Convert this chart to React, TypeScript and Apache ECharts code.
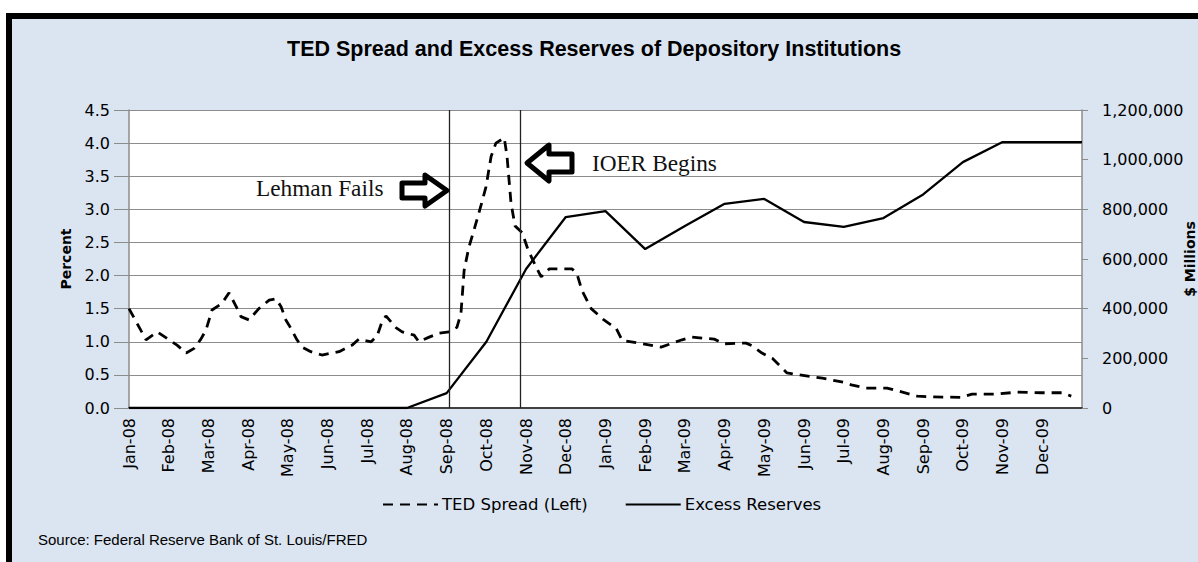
import React, { useEffect, useRef } from "react";
import * as echarts from "echarts";

// Month tick labels (index 0 = Jan-08); the axis runs to index 24 (Jan-10, unlabeled)
const MONTH_LABELS = [
  "Jan-08", "Feb-08", "Mar-08", "Apr-08", "May-08", "Jun-08", "Jul-08", "Aug-08",
  "Sep-08", "Oct-08", "Nov-08", "Dec-08", "Jan-09", "Feb-09", "Mar-09", "Apr-09",
  "May-09", "Jun-09", "Jul-09", "Aug-09", "Sep-09", "Oct-09", "Nov-09", "Dec-09",
];

// TED spread (percent), [month position, value] — roughly weekly readings
const TED_SPREAD: [number, number][] = [
  [0, 1.5], [0.43, 1.03], [0.71, 1.15], [1.01, 1.03], [1.21, 0.95], [1.44, 0.83],
  [1.64, 0.9], [1.81, 1.04], [1.94, 1.18], [2.09, 1.48], [2.34, 1.58], [2.52, 1.74],
  [2.7, 1.53], [2.82, 1.38], [3.02, 1.33], [3.27, 1.5], [3.53, 1.63], [3.7, 1.65],
  [3.83, 1.53], [3.95, 1.33], [4.08, 1.2], [4.23, 1.03], [4.36, 0.92], [4.58, 0.85],
  [4.86, 0.8], [5.29, 0.85], [5.62, 0.95], [5.79, 1.04], [6.1, 1.0], [6.25, 1.09],
  [6.37, 1.3], [6.47, 1.39], [6.73, 1.21], [6.88, 1.15], [7.18, 1.1], [7.3, 1.0],
  [7.56, 1.07], [7.81, 1.13], [8.06, 1.15], [8.26, 1.22], [8.36, 1.43], [8.44, 2.08],
  [8.56, 2.43], [8.69, 2.69], [8.87, 3.07], [8.99, 3.34], [9.12, 3.8], [9.24, 4.0],
  [9.45, 4.08], [9.52, 3.8], [9.62, 3.1], [9.72, 2.75], [9.9, 2.65], [10.05, 2.39],
  [10.25, 2.13], [10.38, 1.98], [10.58, 2.1], [11.16, 2.1], [11.28, 2.03], [11.41, 1.77],
  [11.64, 1.5], [11.96, 1.33], [12.27, 1.2], [12.42, 1.02], [12.85, 0.98], [13.4, 0.92],
  [13.93, 1.03], [14.16, 1.07], [14.74, 1.04], [14.99, 0.97], [15.54, 0.98], [15.69, 0.94],
  [15.94, 0.83], [16.2, 0.75], [16.42, 0.62], [16.57, 0.53], [16.88, 0.5], [17.46, 0.45],
  [18.06, 0.38], [18.19, 0.35], [18.56, 0.3], [19.09, 0.3], [19.35, 0.26], [19.85, 0.18],
  [20.15, 0.17], [20.96, 0.16], [21.23, 0.21], [21.84, 0.21], [22.37, 0.24], [22.97, 0.23],
  [23.5, 0.23], [23.73, 0.18],
];

// Excess reserves ($ millions), monthly from Jan-08 (index 0) to Jan-10 (index 24)
const EXCESS_RESERVES = [
  0, 0, 0, 0, 0, 0, 0, 0,
  60000, 267000, 560000, 769000, 793000, 640000, 733000, 822000,
  842000, 749000, 729000, 765000, 860000, 990000, 1071000, 1071000,
  1071000,
];

// Event markers (month positions)
const LEHMAN_X = 8.06;
const IOER_X = 9.86;

const TITLE = "TED Spread and Excess Reserves of Depository Institutions";
const SOURCE = "Source: Federal Reserve Bank of St. Louis/FRED";

export default function App() {
  const ref = useRef<HTMLDivElement>(null);

  useEffect(() => {
    if (!ref.current) return;
    const chart = echarts.init(ref.current, undefined, { renderer: "svg" });
    const reserves = EXCESS_RESERVES.map((v, i) => [i, v]);

    chart.setOption({
      animation: false,
      backgroundColor: "#DBE5F1",
      title: {
        text: TITLE,
        left: 282,
        top: 33,
        textStyle: {
          fontFamily: "Liberation Sans",
          fontSize: 21.5,
          fontWeight: "bold",
          color: "#000",
        },
      },
      legend: {
        left: 382,
        top: 496,
        padding: 0,
        itemWidth: 55,
        itemHeight: 14,
        itemGap: 37,
        itemStyle: { opacity: 0 },
        textStyle: { fontFamily: "DejaVu Sans", fontSize: 16.5, color: "#000", padding: [0, 0, 0, -1] },
        data: ["TED Spread (Left)", "Excess Reserves"],
      },
      grid: {
        left: 129,
        right: 116,
        top: 110,
        bottom: 154,
        show: true,
        backgroundColor: "#ffffff",
        borderWidth: 0,
        outerBoundsMode: "none",
        containLabel: false,
      },
      xAxis: {
        type: "value",
        min: 0,
        max: 24,
        interval: 1,
        splitLine: { show: false },
        axisTick: { show: false },
        axisLine: { lineStyle: { color: "#404040", width: 2 } },
        axisLabel: {
          rotate: 90,
          margin: 10,
          fontFamily: "DejaVu Sans",
          fontSize: 16,
          color: "#000",
          formatter: (v: number) => MONTH_LABELS[Math.round(v)] ?? "",
        },
      },
      yAxis: [
        {
          type: "value",
          min: 0,
          max: 4.5,
          interval: 0.5,
          name: "Percent",
          nameLocation: "middle",
          nameRotate: 90,
          nameGap: 56,
          nameMoveOverlap: false,
          nameTextStyle: {
            fontFamily: "DejaVu Sans",
            fontWeight: "bold",
            fontSize: 14,
            color: "#000",
          },
          axisLine: { show: true, lineStyle: { color: "#8c8c8c", width: 1.5 } },
          axisTick: { show: true, length: 15, lineStyle: { color: "#8c8c8c" } },
          splitLine: { lineStyle: { color: "#8c8c8c", width: 1 } },
          axisLabel: {
            margin: 19,
            fontFamily: "DejaVu Sans",
            fontSize: 16,
            color: "#000",
            formatter: (v: number) => v.toFixed(1),
          },
        },
        {
          type: "value",
          position: "right",
          min: 0,
          max: 1200000,
          interval: 200000,
          name: "$ Millions",
          nameLocation: "middle",
          nameRotate: 90,
          nameGap: 101,
          nameMoveOverlap: false,
          nameTextStyle: {
            fontFamily: "DejaVu Sans",
            fontWeight: "bold",
            fontSize: 14,
            color: "#000",
          },
          axisLine: { show: true, lineStyle: { color: "#8c8c8c", width: 1.5 } },
          axisTick: { show: true, length: 6, lineStyle: { color: "#8c8c8c" } },
          splitLine: { show: false },
          axisLabel: {
            margin: 20,
            fontFamily: "DejaVu Sans",
            fontSize: 16,
            color: "#000",
            formatter: (v: number) => v.toLocaleString("en-US"),
          },
        },
      ],
      series: [
        {
          name: "TED Spread (Left)",
          type: "line",
          yAxisIndex: 0,
          symbol: "none",
          data: TED_SPREAD,
          lineStyle: { color: "#000", width: 2.8, type: [10, 7] },
          itemStyle: { color: "#000" },
          markLine: {
            silent: true,
            symbol: "none",
            label: { show: false },
            lineStyle: { color: "#222", width: 1.3, type: "solid" },
            data: [{ xAxis: LEHMAN_X }, { xAxis: IOER_X }],
          },
        },
        {
          name: "Excess Reserves",
          type: "line",
          yAxisIndex: 1,
          symbol: "none",
          data: reserves,
          lineStyle: { color: "#000", width: 2.3, type: "solid" },
          itemStyle: { color: "#000" },
        },
      ],
      graphic: [
        { type: "rect", shape: { x: 0, y: 0, width: 1198, height: 13 }, style: { fill: "#ffffff" } },
        { type: "rect", shape: { x: 0, y: 0, width: 6, height: 562 }, style: { fill: "#ffffff" } },
        { type: "rect", shape: { x: 6, y: 13, width: 1192, height: 6 }, style: { fill: "#000" } },
        { type: "rect", shape: { x: 6, y: 13, width: 6, height: 549 }, style: { fill: "#000" } },
        {
          type: "text",
          left: 38,
          top: 532,
          style: {
            text: SOURCE,
            fontFamily: "Liberation Sans",
            fontSize: 15,
            fill: "#000",
          },
        },
        {
          type: "text",
          left: 256,
          top: 176,
          style: {
            text: "Lehman Fails",
            fontFamily: "Liberation Serif",
            fontSize: 23.3,
            fill: "#111",
          },
        },
        {
          type: "text",
          left: 592,
          top: 151,
          style: {
            text: "IOER Begins",
            fontFamily: "Liberation Serif",
            fontSize: 23.3,
            fill: "#111",
          },
        },
        {
          type: "polygon",
          shape: {
            points: [[402, 183], [425, 183], [425, 175], [447, 190.5], [425, 206], [425, 198], [402, 198]],
          },
          style: { fill: "#fff", stroke: "#000", lineWidth: 5, lineJoin: "round" },
          z: 100,
        },
        {
          type: "polygon",
          shape: {
            points: [[572, 154], [549, 154], [549, 145], [527, 163], [549, 181], [549, 172], [572, 172]],
          },
          style: { fill: "#fff", stroke: "#000", lineWidth: 5, lineJoin: "round" },
          z: 100,
        },
      ],
    });

    return () => chart.dispose();
  }, []);

  return (
    <div
      ref={ref}
      style={{ position: "absolute", left: 0, top: 0, width: 1198, height: 562 }}
    />
  );
}
